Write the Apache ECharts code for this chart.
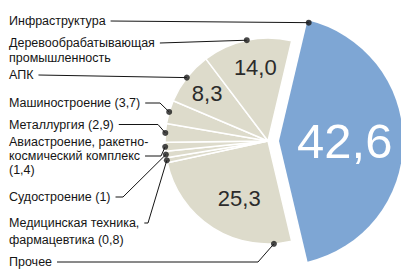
<!DOCTYPE html>
<html>
<head>
<meta charset="utf-8">
<script src="https://cdn.jsdelivr.net/npm/echarts@6/dist/echarts.min.js"></script>
<style>
  html, body { margin: 0; padding: 0; background: #fff; }
  #chart { width: 401px; height: 269px; }
</style>
</head>
<body>
<div id="chart"></div>
<script>
// shares, % — clockwise order, starting with the big slice
const names = ["Инфраструктура", "Прочее", "Медицинская техника, фармацевтика", "Судостроение",
  "Авиастроение, ракетно-космический комплекс", "Металлургия", "Машиностроение", "АПК",
  "Деревообрабатывающая промышленность"];
const values = [42.6, 25.3, 0.8, 1, 1.4, 2.9, 3.7, 8.3, 14.0];
// captions on the left, row by row
const captions = [
  ["Инфраструктура"],
  ["Прочее"],
  ["Медицинская техника,", "фармацевтика (0,8)"],
  ["Судостроение (1)"],
  ["Авиастроение, ракетно-", "космический комплекс", "(1,4)"],
  ["Металлургия (2,9)"],
  ["Машиностроение (3,7)"],
  ["АПК"],
  ["Деревообрабатывающая", "промышленность"]
];
// which slices carry their number
const showValue = [true, true, false, false, false, false, false, true, true];

// ---- layout ----
const textFont = '"Liberation Sans", Arial, sans-serif';
const beigeCenter = [268, 141], beigeR = 103;
const blueCenter = [279, 141], blueR = 124;
const blue = "#7ea6d4", beige = "#dddbcb", ink = "#151515";
// rows y, row that gets the leader, bend x, anchor position along slice, inset
const rows = [
  { ys: [21], lineRow: 0, bend: null, along: 0.005, inset: 2 },
  { ys: [262], lineRow: 0, bend: 258, along: 0.11, inset: 0 },
  { ys: [223, 240], lineRow: 0, bend: 148, along: 0.5, inset: 0 },
  { ys: [197], lineRow: 0, bend: 123, along: 0.5, inset: 0 },
  { ys: [142, 156, 170], lineRow: 1, bend: 161, along: 0.5, inset: 0 },
  { ys: [124.5], lineRow: 0, bend: 158, along: 0.5, inset: 0 },
  { ys: [103], lineRow: 0, bend: 160, along: 0.5, inset: 0 },
  { ys: [75], lineRow: 0, bend: null, along: 0.5, inset: 0 },
  { ys: [43, 58], lineRow: 0, bend: null, along: 0.5, inset: 0 }
];
// where the number sits: along the slice, depth as share of radius
const numSpot = [
  { along: 0.5, depth: 0.53 }, { along: 0.44, depth: 0.62 }, null, null, null, null, null,
  { along: 0.5, depth: 0.75 }, { along: 0.54, depth: 0.72 }
];

const total = values.reduce((a, b) => a + b, 0);
const startAngle = values[0] / total * 360 / 2;

function angleAt(i, t) {
  let cum = 0;
  for (let k = 0; k < i; k++) cum += values[k];
  return startAngle - (cum + t * values[i]) / total * 360;
}
function polar(c, rad, deg) {
  const a = deg * Math.PI / 180;
  return [c[0] + rad * Math.cos(a), c[1] - rad * Math.sin(a)];
}
function fmt(v) {
  return v.toFixed(1).replace(".", ",");
}
const measure = document.createElement("canvas").getContext("2d");
measure.font = '12.5px ' + textFont;

// leader lines, dots and captions
const lineSeries = [];
const dots = [];
const texts = [];
values.forEach((v, i) => {
  const L = rows[i];
  const c = i === 0 ? blueCenter : beigeCenter;
  const rr = (i === 0 ? blueR : beigeR) - L.inset;
  const dot = polar(c, rr, angleAt(i, L.along));
  dots.push(dot);
  captions[i].forEach((t, k) => {
    texts.push({
      type: "text", x: 9, y: L.ys[k], z: 100, silent: true,
      style: { text: t, fill: ink, fontSize: 12.5, fontFamily: textFont, align: "left", verticalAlign: "middle" }
    });
  });
  const y = L.ys[L.lineRow];
  const sx = 9 + measure.measureText(captions[i][L.lineRow]).width + 5;
  const pts = [[sx, y]];
  if (L.bend !== null) pts.push([Math.max(L.bend, sx + 3), y]);
  pts.push(dot);
  lineSeries.push({
    type: "line", data: pts, symbol: "none", silent: true, z: 5,
    lineStyle: { color: ink, width: 1 }
  });
});

function numLayout(center, rad) {
  return function (p) {
    const s = numSpot[p.dataIndex];
    if (!s) return {};
    const pt = polar(center, rad * s.depth, angleAt(p.dataIndex, s.along));
    return { x: pt[0], y: pt[1], align: "center", verticalAlign: "middle" };
  };
}

const chart = echarts.init(document.getElementById("chart"), null, { renderer: "svg" });
chart.setOption({
  animation: false,
  grid: { left: 0, right: 0, top: 0, bottom: 0 },
  xAxis: { type: "value", min: 0, max: 401, show: false },
  yAxis: { type: "value", min: 0, max: 269, inverse: true, show: false },
  graphic: texts,
  series: [
    {
      type: "pie", center: blueCenter, radius: blueR, startAngle: startAngle, clockwise: true,
      silent: true, avoidLabelOverlap: false, emphasis: { disabled: true },
      data: values.map((v, i) => ({
        name: names[i], value: v,
        itemStyle: i === 0 ? { color: blue, borderWidth: 0 } : { color: "rgba(0,0,0,0)", borderWidth: 0 },
        label: { show: i === 0 }
      })),
      label: {
        position: "inside", formatter: p => fmt(p.value), color: "#fff",
        fontSize: 49, fontFamily: textFont
      },
      labelLine: { show: false },
      labelLayout: numLayout(blueCenter, blueR)
    },
    {
      type: "pie", center: beigeCenter, radius: beigeR, startAngle: startAngle, clockwise: true,
      silent: true, avoidLabelOverlap: false, emphasis: { disabled: true },
      data: values.map((v, i) => ({
        name: names[i], value: v,
        itemStyle: i === 0 ? { color: "rgba(0,0,0,0)", borderWidth: 0 }
          : { color: beige, borderColor: "#fff", borderWidth: 1.5 },
        label: { show: i !== 0 && showValue[i] }
      })),
      label: {
        position: "inside", formatter: p => fmt(p.value), color: "#2b2b2b",
        fontSize: 22, fontFamily: textFont
      },
      labelLine: { show: false },
      labelLayout: numLayout(beigeCenter, beigeR)
    },
    ...lineSeries,
    {
      type: "scatter", data: dots, symbolSize: 6, silent: true, z: 6,
      itemStyle: { color: "#1a1a1a" }
    }
  ]
});
</script>
</body>
</html>
